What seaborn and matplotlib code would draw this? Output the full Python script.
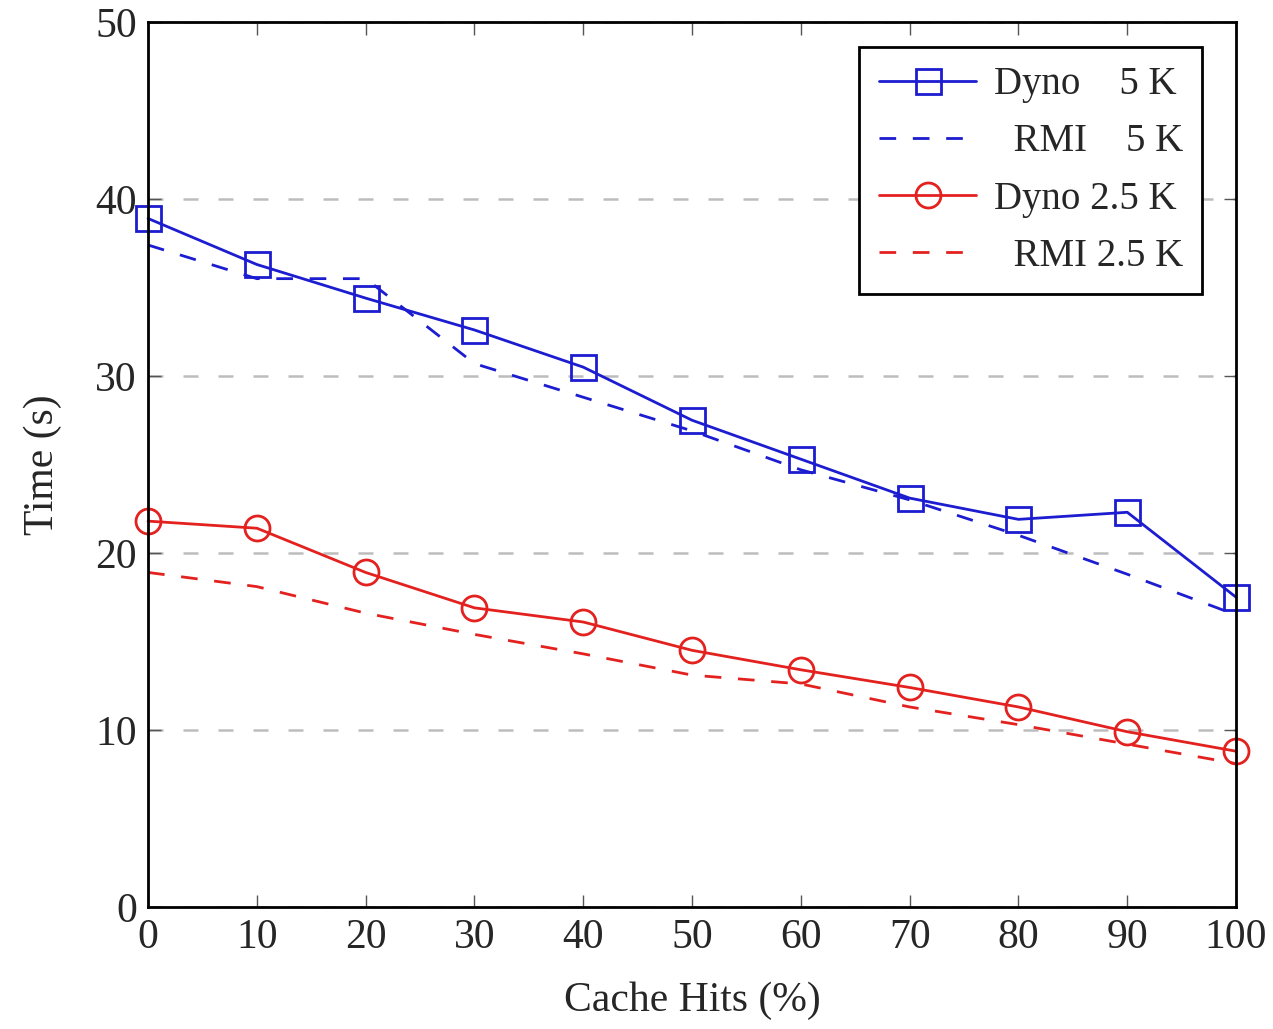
import numpy as np
import pandas as pd
import matplotlib
matplotlib.use("Agg")
import matplotlib.pyplot as plt
import seaborn as sns

# Cache hit percentage on the x axis
cache_hits = [0, 10, 20, 30, 40, 50, 60, 70, 80, 90, 100]

# Time (s) for each configuration
dyno_5k = [38.9, 36.3, 34.4, 32.6, 30.5, 27.5, 25.3, 23.1, 21.9, 22.3, 17.5]
rmi_5k = [37.4, 35.5, 35.5, 30.7, 28.8, 26.9, 24.7, 23.0, 21.0, 18.8, 16.5]
dyno_25k = [21.8, 21.4, 18.9, 16.9, 16.1, 14.5, 13.4, 12.4, 11.3, 9.9, 8.8]
rmi_25k = [18.9, 18.1, 16.6, 15.4, 14.3, 13.1, 12.6, 11.3, 10.3, 9.2, 8.1]

y_ticks = [0, 10, 20, 30, 40, 50]
x_ticks = cache_hits

sns.set_theme(style="white")
plt.rcParams["font.family"] = ["Liberation Serif", "DejaVu Serif"]

fig = plt.figure(figsize=(12.73, 10.29), dpi=100)
ax = fig.add_axes([0.1163, 0.1186, 0.8547, 0.86])

blue = "#1c1cd0"
red = "#e3211f"

df = pd.DataFrame({"x": cache_hits, "dyno5": dyno_5k, "rmi5": rmi_5k,
                   "dyno25": dyno_25k, "rmi25": rmi_25k})

common = dict(ax=ax, lw=2.0, clip_on=False)
sns.lineplot(data=df, x="x", y="dyno5", color=blue,
             marker="s", markersize=18, markerfacecolor="none",
             markeredgecolor=blue, markeredgewidth=2.0,
             label="Dyno    5 K", **common)
sns.lineplot(data=df, x="x", y="rmi5", color=blue,
             dashes=(6, 6), label="  RMI    5 K", **common)
sns.lineplot(data=df, x="x", y="dyno25", color=red,
             marker="o", markersize=18, markerfacecolor="none",
             markeredgecolor=red, markeredgewidth=2.0,
             label="Dyno 2.5 K", **common)
sns.lineplot(data=df, x="x", y="rmi25", color=red,
             dashes=(6, 6), label="  RMI 2.5 K", **common)

ax.set_xlim(0, 100)
ax.set_ylim(0, 50)
ax.set_xticks(x_ticks)
ax.set_yticks(y_ticks)
ax.set_xlabel("Cache Hits (%)", fontsize=30, labelpad=18)
ax.set_ylabel("Time (s)", fontsize=30, labelpad=24)
ax.tick_params(axis="both", labelsize=30, direction="in", length=9,
               width=1, color="#555555", top=True, right=True,
               bottom=True, left=True, pad=8)

# dashed horizontal grid lines
ax.yaxis.grid(True, linestyle=(0, (6, 8)), color="#bdbdbd", lw=1.8)
ax.xaxis.grid(False)
ax.set_axisbelow(True)

for sp in ax.spines.values():
    sp.set_color("black")
    sp.set_linewidth(2.0)

leg = ax.legend(loc="upper right", bbox_to_anchor=(0.969, 0.972),
                borderaxespad=0, fontsize=28, frameon=True, fancybox=False,
                framealpha=1, edgecolor="black", handlelength=2.5,
                borderpad=0.5, labelspacing=0.52, handletextpad=0.45)
leg.get_frame().set_linewidth(2.0)
leg.set_zorder(10)

fig.savefig("out.png", dpi=100)
